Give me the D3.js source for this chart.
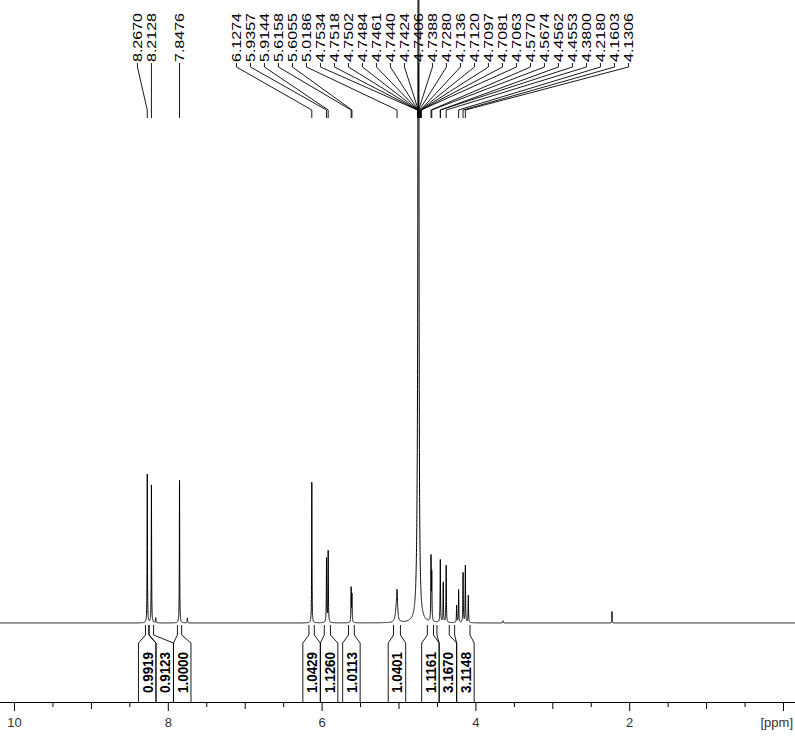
<!DOCTYPE html>
<html>
<head>
<meta charset="utf-8">
<script src="https://cdn.jsdelivr.net/npm/d3@7.9.0/dist/d3.min.js"></script>
<style>
  html, body { margin: 0; padding: 0; background: #fff; }
  svg { display: block; font-family: Arial, "Liberation Sans", sans-serif; }
</style>
</head>
<body>
<div id="chart"></div>
<script>
const W = 795, H = 738;

// picked peaks (ppm), labels along the top
const peakLabels = [8.2670, 8.2128, 7.8476,
  6.1274, 5.9357, 5.9144, 5.6158, 5.6055, 5.0186,
  4.7534, 4.7518, 4.7502, 4.7484, 4.7461, 4.7440, 4.7424, 4.7406,
  4.7388, 4.7280, 4.7136, 4.7120, 4.7097, 4.7081, 4.7063,
  4.5770, 4.5674, 4.4562, 4.4553, 4.3800, 4.2180, 4.1603, 4.1306];

// spectrum lines: position (ppm), height (rel. to 7.8476 = 100), half width (ppm)
const specPpm    = [8.2670, 8.2128, 8.157, 7.8476, 7.746, 6.1274, 5.9357, 5.9144, 5.6158, 5.6055,
  5.030, 5.0186, 4.7406, 4.748, 4.5770, 4.5674, 4.4562, 4.418, 4.3800, 4.244, 4.2180, 4.1603, 4.1306, 4.092,
  3.640, 2.224];
const specHeight = [104, 97, 3.5, 100, 3.5, 98.6, 45, 50, 24, 19,
  7, 19, 4000, 70, 44, 32, 44, 28, 40, 12, 23, 35, 40, 19,
  1.5, 8];
const specWidth  = [0.0025, 0.0025, 0.003, 0.0025, 0.003, 0.0025, 0.003, 0.003, 0.003, 0.003,
  0.014, 0.008, 0.002, 0.014, 0.003, 0.003, 0.003, 0.003, 0.003, 0.003, 0.003, 0.003, 0.003, 0.003,
  0.004, 0.002];

// integrals
const integralValues = ['0.9919', '0.9123', '1.0000', '1.0429', '1.1260', '1.0113', '1.0401', '1.1161', '3.1670', '3.1148'];
const integralFrom   = [8.290, 8.245, 7.875, 6.165, 5.965, 5.650, 5.065, 4.625, 4.500, 4.270];
const integralTo     = [8.245, 8.185, 7.820, 6.095, 5.885, 5.575, 4.975, 4.545, 4.340, 4.070];

// axis
const tickValues = d3.range(0, 10.001, 0.5);
const axisUnit = '[ppm]';

const baseY = 623, axisY = 702;

const x = d3.scaleLinear().domain([10, 0]).range([14, 783]);
const y = d3.scaleLinear().domain([0, 436]).range([baseY, 0]).clamp(true);

const intensity = p => d3.sum(specPpm, (c, i) =>
  specHeight[i] * specWidth[i] ** 2 / ((p - c) ** 2 + specWidth[i] ** 2));

const svg = d3.select('#chart').append('svg')
  .attr('width', W).attr('height', H);

// spectrum
const pts = d3.range(10.2, -0.2, -0.0005).map(p => [p, intensity(p)]);
svg.append('path')
  .datum(pts)
  .attr('fill', 'none')
  .attr('stroke', '#000')
  .attr('stroke-width', 1)
  .attr('d', d3.line().x(d => x(d[0])).y(d => y(d[1])));

// peak labels: spread apart, each group kept on its main peak
const gap = 14;
const labels = peakLabels.map(p => ({ p, x0: x(p), w: intensity(p) })).sort((a, b) => a.x0 - b.x0);
let clusters = labels.map(d => ({ m: [d] }));
const place = c => {
  const top = d3.max(c.m, d => d.w);
  let a = 0;
  c.m.forEach((d, i) => { if (d.w >= 0.9 * top) a = i; });
  c.m.forEach((d, i) => d.x = c.m[a].x0 + (i - a) * gap);
};
clusters.forEach(place);
let merged = true;
while (merged) {
  merged = false;
  for (let i = 0; i < clusters.length - 1; i++) {
    const l = clusters[i], r = clusters[i + 1];
    if (r.m[0].x - l.m[l.m.length - 1].x < gap) {
      l.m = l.m.concat(r.m);
      clusters.splice(i + 1, 1);
      place(l);
      merged = true;
      break;
    }
  }
}

const gLab = svg.append('g');
gLab.selectAll('path')
  .data(labels)
  .enter()
  .append('path')
  .attr('fill', 'none')
  .attr('stroke', '#000')
  .attr('stroke-width', 0.9)
  .attr('d', d => `M${d.x},63V67L${d.x0},110V118`);
gLab.selectAll('text')
  .data(labels)
  .enter()
  .append('text')
  .attr('transform', d => `translate(${d.x},62) rotate(-90)`)
  .attr('dy', '0.35em')
  .attr('font-size', 13)
  .attr('textLength', 49)
  .attr('lengthAdjust', 'spacingAndGlyphs')
  .text(d => d.p.toFixed(4));

// integrals: boxes laid left to right
const boxW = 17.5;
const integrals = integralValues.map((v, i) => ({ v, a: x(integralFrom[i]), b: x(integralTo[i]) }));
let prev = -Infinity;
integrals.forEach(d => {
  d.cx = Math.max((d.a + d.b) / 2, prev + boxW);
  prev = d.cx;
});
const gInt = svg.append('g');
integrals.forEach(d => {
  const l = d.cx - boxW / 2, r = d.cx + boxW / 2;
  gInt.append('path')
    .attr('fill', 'none').attr('stroke', '#000').attr('stroke-width', 0.9)
    .attr('d', `M${d.a},625V635L${l},643V${axisY}M${d.b},625V635L${r},643V${axisY}`);
  gInt.append('text')
    .attr('transform', `translate(${d.cx},672.5) rotate(-90)`)
    .attr('text-anchor', 'middle')
    .attr('dy', '0.36em')
    .attr('font-size', 15)
    .attr('font-weight', 'bold')
    .attr('textLength', 41)
    .attr('lengthAdjust', 'spacingAndGlyphs')
    .text(d.v);
});

// axis
svg.append('line')
  .attr('x1', 0).attr('x2', W)
  .attr('y1', axisY + 0.5).attr('y2', axisY + 0.5)
  .attr('stroke', '#000');
const gAxis = svg.append('g')
  .attr('transform', `translate(0,${axisY})`)
  .call(d3.axisBottom(x).tickValues(tickValues).tickSizeOuter(0)
    .tickFormat(d => (d % 2 === 0 && d > 0) ? d : ''));
gAxis.select('.domain').remove();
gAxis.selectAll('.tick line')
  .attr('stroke', '#000')
  .attr('y2', d => d % 2 === 0 ? 9 : (d % 1 === 0 ? 7 : 5));
gAxis.selectAll('.tick text')
  .attr('y', 16)
  .attr('font-size', 13)
  .attr('font-family', 'Arial, "Liberation Sans", sans-serif')
  .attr('fill', '#333');
svg.append('text')
  .attr('x', 793).attr('y', 727)
  .attr('text-anchor', 'end')
  .attr('font-size', 13)
  .attr('fill', '#333')
  .text(axisUnit);
</script>
</body>
</html>
